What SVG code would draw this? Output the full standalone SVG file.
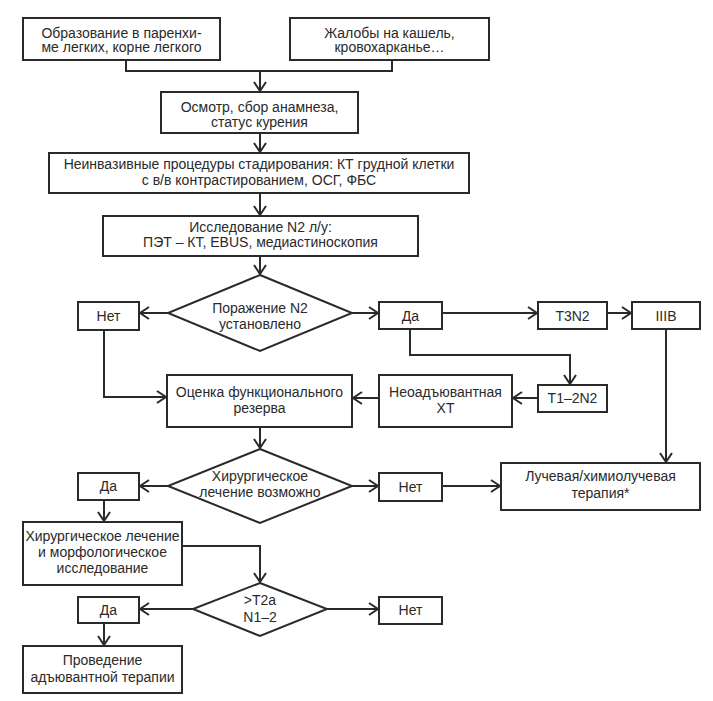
<svg xmlns="http://www.w3.org/2000/svg" width="713" height="701" viewBox="0 0 713 701">
<style>
.b{fill:#fff;stroke:#2a2a2a;stroke-width:2}
.t{font-family:"Liberation Sans",Arial,sans-serif;font-size:14px;fill:#2a2a2a;text-anchor:middle}
.c{fill:none;stroke:#2a2a2a;stroke-width:2}
</style>
<defs>
<marker id="a" markerUnits="userSpaceOnUse" markerWidth="14" markerHeight="14" refX="11" refY="7" orient="auto">
<path d="M2,1 L11,7 L2,13" fill="none" stroke="#2a2a2a" stroke-width="2"/>
</marker>
</defs>
<rect width="713" height="701" fill="#fff"/>
<g id="connectors">
<path class="c" d="M126,60 V71 H392 V60"/>
<path class="c" d="M260,71 V91" marker-end="url(#a)"/>
<path class="c" d="M260,133 V152" marker-end="url(#a)"/>
<path class="c" d="M260,193 V215" marker-end="url(#a)"/>
<path class="c" d="M260,256 V274" marker-end="url(#a)"/>
<path class="c" d="M168,313 H140" marker-end="url(#a)"/>
<path class="c" d="M352,313 H378" marker-end="url(#a)"/>
<path class="c" d="M442,313 H537" marker-end="url(#a)"/>
<path class="c" d="M607,313 H631" marker-end="url(#a)"/>
<path class="c" d="M104,330 V397 H166" marker-end="url(#a)"/>
<path class="c" d="M410,329 V355 H570 V384" marker-end="url(#a)"/>
<path class="c" d="M538,398 H513" marker-end="url(#a)"/>
<path class="c" d="M379,398 H353" marker-end="url(#a)"/>
<path class="c" d="M666,329 V462" marker-end="url(#a)"/>
<path class="c" d="M260,427 V448" marker-end="url(#a)"/>
<path class="c" d="M168,486 H140" marker-end="url(#a)"/>
<path class="c" d="M352,486 H378" marker-end="url(#a)"/>
<path class="c" d="M442,486 H500" marker-end="url(#a)"/>
<path class="c" d="M104,500 V521" marker-end="url(#a)"/>
<path class="c" d="M182,546 H260 V582" marker-end="url(#a)"/>
<path class="c" d="M193,609 H140" marker-end="url(#a)"/>
<path class="c" d="M327,609 H378" marker-end="url(#a)"/>
<path class="c" d="M104,623 V645" marker-end="url(#a)"/>
</g>
<g id="n1"><rect class="b" x="23" y="18" width="197" height="42"/><text class="t" x="121.5" y="37.5">Образование в паренхи-</text><text class="t" x="121.5" y="52">ме легких, корне легкого</text></g>
<g id="n2"><rect class="b" x="290" y="18" width="199" height="42"/><text class="t" x="389.5" y="37.5">Жалобы на кашель,</text><text class="t" x="389.5" y="52">кровохарканье…</text></g>
<g id="n3"><rect class="b" x="161" y="92" width="197" height="41"/><text class="t" x="259.5" y="111.5">Осмотр, сбор анамнеза,</text><text class="t" x="259.5" y="127">статус курения</text></g>
<g id="n4"><rect class="b" x="49" y="153" width="420" height="40"/><text class="t" x="259" y="168.5">Неинвазивные процедуры стадирования: КТ грудной клетки</text><text class="t" x="259" y="185">с в/в контрастированием, ОСГ, ФБС</text></g>
<g id="n5"><rect class="b" x="103" y="216" width="315" height="40"/><text class="t" x="260.5" y="231.5">Исследование N2 л/у:</text><text class="t" x="260.5" y="246.5">ПЭТ – КТ, EBUS, медиастиноскопия</text></g>
<g id="d1"><polygon class="b" points="260,275 352,313 260,351 168,313"/><text class="t" x="260" y="312.5">Поражение N2</text><text class="t" x="260" y="328.5">установлено</text></g>
<g id="no1"><rect class="b" x="78" y="302" width="61" height="28"/><text class="t" x="108.5" y="321">Нет</text></g>
<g id="yes1"><rect class="b" x="379" y="302" width="63" height="27"/><text class="t" x="410.5" y="320.5">Да</text></g>
<g id="t3n2"><rect class="b" x="538" y="302" width="69" height="27"/><text class="t" x="572.5" y="320.5">T3N2</text></g>
<g id="iiib"><rect class="b" x="632" y="302" width="68" height="27"/><text class="t" x="666" y="320.5">IIIB</text></g>
<g id="t12n2"><rect class="b" x="538" y="385" width="69" height="27"/><text class="t" x="572.5" y="403">T1–2N2</text></g>
<g id="neo"><rect class="b" x="379" y="375" width="133" height="52"/><text class="t" x="445.5" y="397">Неоадъювантная</text><text class="t" x="445.5" y="413">ХТ</text></g>
<g id="func"><rect class="b" x="167" y="375" width="185" height="52"/><text class="t" x="259.5" y="397">Оценка функционального</text><text class="t" x="259.5" y="413">резерва</text></g>
<g id="d2"><polygon class="b" points="260,449 352,486 260,523 168,486"/><text class="t" x="260" y="481">Хирургическое</text><text class="t" x="260" y="497">лечение возможно</text></g>
<g id="yes2"><rect class="b" x="78" y="473" width="61" height="27"/><text class="t" x="108.5" y="491">Да</text></g>
<g id="no2"><rect class="b" x="379" y="473" width="63" height="28"/><text class="t" x="410.5" y="491.5">Нет</text></g>
<g id="rad"><rect class="b" x="501" y="463" width="199" height="47"/><text class="t" x="600.5" y="481">Лучевая/химиолучевая</text><text class="t" x="600.5" y="498">терапия*</text></g>
<g id="surg"><rect class="b" x="23" y="522" width="159" height="63"/><text class="t" x="102.5" y="541">Хирургическое лечение</text><text class="t" x="102.5" y="557">и морфологическое</text><text class="t" x="102.5" y="573">исследование</text></g>
<g id="d3"><polygon class="b" points="260,583 327,609 260,636 193,609"/><text class="t" x="260" y="605">&gt;T2a</text><text class="t" x="260" y="622">N1–2</text></g>
<g id="yes3"><rect class="b" x="78" y="597" width="61" height="26"/><text class="t" x="108.5" y="615">Да</text></g>
<g id="no3"><rect class="b" x="379" y="597" width="63" height="27"/><text class="t" x="410.5" y="615">Нет</text></g>
<g id="adj"><rect class="b" x="23" y="646" width="159" height="47"/><text class="t" x="102.5" y="665">Проведение</text><text class="t" x="102.5" y="682">адъювантной терапии</text></g>
</svg>
